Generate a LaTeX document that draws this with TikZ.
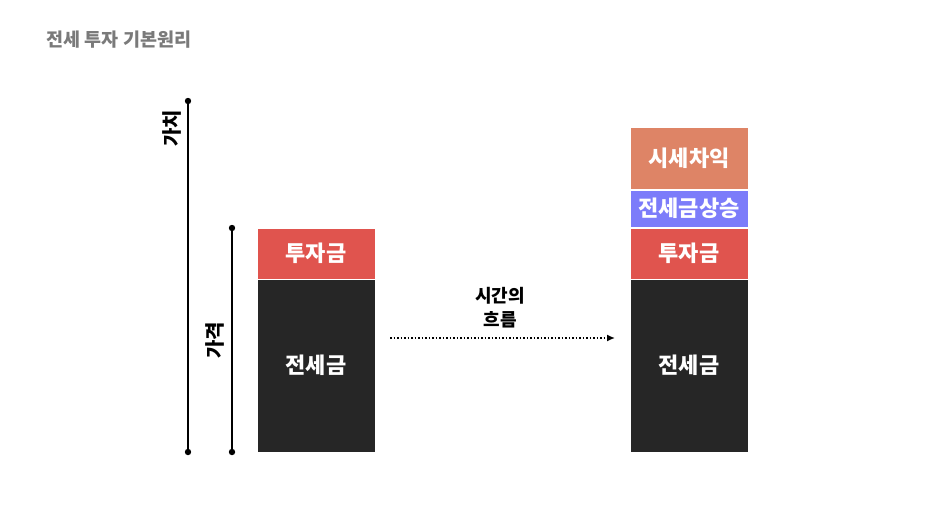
\documentclass[tikz,border=0pt]{standalone}
\usepackage{fontspec}
\setmainfont{Noto Sans CJK KR}
\usetikzlibrary{arrows.meta}
\definecolor{dep}{HTML}{262626}
\definecolor{inv}{HTML}{E0544E}
\definecolor{rise}{HTML}{7C7CFA}
\definecolor{gain}{HTML}{DE8466}
\definecolor{ttl}{HTML}{7A7A7A}
\tikzset{
  box/.style={draw=white, line width=1pt, minimum width=118pt, inner sep=0pt,
    text=white, font=\fontsize{22}{24}\selectfont\bfseries},
  measure/.style={line width=1.5pt},
  axislabel/.style={rotate=90, font=\fontsize{20}{22}\selectfont\bfseries}
}
\begin{document}
\begin{tikzpicture}[x=1pt, y=-1pt]
\useasboundingbox (0,0) rectangle (950,507);
\node[anchor=west, text=ttl, font=\fontsize{18.5}{20}\selectfont\bfseries] (title) at (43,40) {전세 투자 기본원리};
% left stack
\node[box, fill=inv, minimum height=51pt] (l-inv) at (316,253.5) {투자금};
\node[box, fill=dep, minimum height=173pt] (l-dep) at (316,365.5) {전세금};
% right stack
\node[box, fill=gain, minimum height=62pt] (r-gain) at (689,158) {시세차익};
\node[box, fill=rise, minimum height=37pt] (r-rise) at (689,208.5) {전세금상승};
\node[box, fill=inv, minimum height=51pt] (r-inv) at (689,253.5) {투자금};
\node[box, fill=dep, minimum height=173pt] (r-dep) at (689,365.5) {전세금};
% measures
\coordinate (v-top) at (188,101);
\coordinate (v-bot) at (188,452);
\coordinate (p-top) at (232,228);
\coordinate (p-bot) at (232,452);
\draw[measure] (v-top) -- (v-bot);
\draw[measure] (p-top) -- (p-bot);
\foreach \p in {v-top, v-bot, p-top, p-bot}
  \fill (\p) circle (3.2);
\node[axislabel] (value) at (172,128) {가치};
\node[axislabel] (price) at (215,340) {가격};
% time
\coordinate (t-start) at (390,338);
\coordinate (t-end) at (615,338);
\draw[line width=1.5pt, dash pattern=on 1.5pt off 2pt, -{Latex[length=8pt,width=7pt]}] (t-start) -- (t-end);
\node[font=\fontsize{18}{24}\selectfont\bfseries, align=center] (time) at (500,308) {시간의\\흐름};
\end{tikzpicture}
\end{document}
